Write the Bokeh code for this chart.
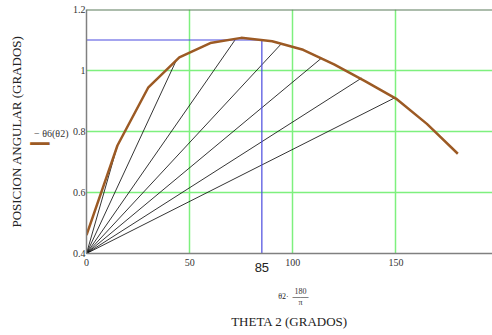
from bokeh.plotting import figure
from bokeh.models import Range1d, FixedTicker, Span, Title, LinearAxis
from bokeh.embed import file_html
from bokeh.resources import INLINE

# ---- data ----
theta2_deg = [0, 15, 30, 45, 60, 75, 90, 105, 120, 135, 150, 165, 180]
theta6 = [0.46, 0.754, 0.945, 1.043, 1.09, 1.107, 1.096, 1.068, 1.02, 0.965, 0.908, 0.825, 0.727]

ray_origin = (0, 0.4)
ray_x = [15, 43.5, 72.2, 94.5, 113.8, 133.3, 149.3]
ray_y = [0.754, 1.033, 1.102, 1.088, 1.040, 0.975, 0.910]

mark_x = 85
mark_y = 1.1

x_ticks = [0, 50, 100, 150]
y_ticks = [0.4, 0.6, 0.8, 1.0, 1.2]
y_tick_labels = {0.4: "0.4", 0.6: "0.6", 0.8: "0.8", 1.0: "1", 1.2: "1.2"}
x_grid = [50, 100, 150]
y_grid = [0.6, 0.8, 1.0]

legend_text_y = 0.793
legend_line_y = 0.761
frac_x = 103.7
frac_lhs_x = 95.5

SERIF = "Liberation Serif"
BROWN = "#9c5a24"


def bare_axis(ticks, labels, font, size, color, standoff):
    ax = LinearAxis(ticker=FixedTicker(ticks=ticks), major_label_overrides=labels)
    ax.axis_line_color = None
    ax.major_tick_in = 0
    ax.major_tick_out = 0
    ax.minor_tick_line_color = None
    ax.major_label_standoff = standoff
    ax.major_label_text_font = font
    ax.major_label_text_font_size = size
    ax.major_label_text_color = color
    return ax


p = figure(width=492, height=335, output_backend="svg", toolbar_location=None,
           x_range=Range1d(0, 196.8), y_range=Range1d(0.4, 1.2),
           min_border_left=86, min_border_right=0, min_border_top=9, min_border_bottom=82)
p.outline_line_color = None
p.background_fill_color = "white"

p.xgrid.ticker = FixedTicker(ticks=x_grid)
p.ygrid.ticker = FixedTicker(ticks=y_grid)
for g in (p.xgrid, p.ygrid):
    g.grid_line_color = "#7ef07e"
    g.grid_line_width = 1.5

main_x = p.below[0]
main_y = p.left[0]
for ax in (main_x, main_y):
    ax.axis_line_color = "#808080"
    ax.axis_line_width = 1.5
    ax.major_tick_in = 0
    ax.major_tick_out = 0
    ax.minor_tick_line_color = None
    ax.major_label_text_font = SERIF
    ax.major_label_text_font_size = "10px"
    ax.major_label_text_color = "#333333"
main_x.ticker = FixedTicker(ticks=x_ticks)
main_y.ticker = FixedTicker(ticks=y_ticks)
main_y.major_label_overrides = y_tick_labels
main_x.major_label_standoff = 5
main_y.major_label_standoff = 1

p.add_layout(Span(location=1.2, dimension="width", line_color="#5b7a5b", line_width=2))

xs = [[ray_origin[0], x] for x in ray_x]
ys = [[ray_origin[1], y] for y in ray_y]
p.multi_line(xs, ys, line_color="black", line_width=0.8)

p.line([0, mark_x], [mark_y, mark_y], line_color="#4a4adf", line_width=1.2)
p.line([mark_x, mark_x], [0.4, mark_y], line_color="#4a4adf", line_width=1.2)

p.line(theta2_deg, theta6, line_color=BROWN, line_width=2.5)

# ---- below: "85", fraction rows, axis title ----
p.add_layout(bare_axis([mark_x], {mark_x: "85"}, "Liberation Sans", "13px", "#222222", -6), "below")
p.add_layout(bare_axis([frac_x], {frac_x: "180"}, SERIF, "8px", "#333333", 13), "below")
p.add_layout(bare_axis([frac_lhs_x, frac_x], {frac_lhs_x: "\u03b82\u00b7", frac_x: "\u2014\u2014"},
                       SERIF, "8px", "#222222", -5), "below")
ax_pi = bare_axis([frac_x], {frac_x: "\u03c0"}, SERIF, "8px", "#333333", -6)
ax_pi.axis_label = "THETA 2 (GRADOS)"
ax_pi.axis_label_standoff = 4
ax_pi.axis_label_text_font = SERIF
ax_pi.axis_label_text_font_size = "13px"
ax_pi.axis_label_text_font_style = "normal"
ax_pi.axis_label_text_color = "#222222"
p.add_layout(ax_pi, "below")

# ---- left: legend text, legend line, axis title ----
p.add_layout(bare_axis([legend_text_y], {legend_text_y: "\u2212 \u03b86(\u03b82)"},
                       SERIF, "10px", "#333333", 1), "left")
p.add_layout(bare_axis([legend_line_y], {legend_line_y: "\u2501\u2501"},
                       "DejaVu Sans", "16px", BROWN, -18), "left")
p.add_layout(Title(text="POSICION ANGULAR (GRADOS)", align="center", text_font=SERIF,
                   text_font_size="13px", text_font_style="normal", text_color="#222222",
                   standoff=7), "left")

open("out.html", "w").write(file_html(p, INLINE))
